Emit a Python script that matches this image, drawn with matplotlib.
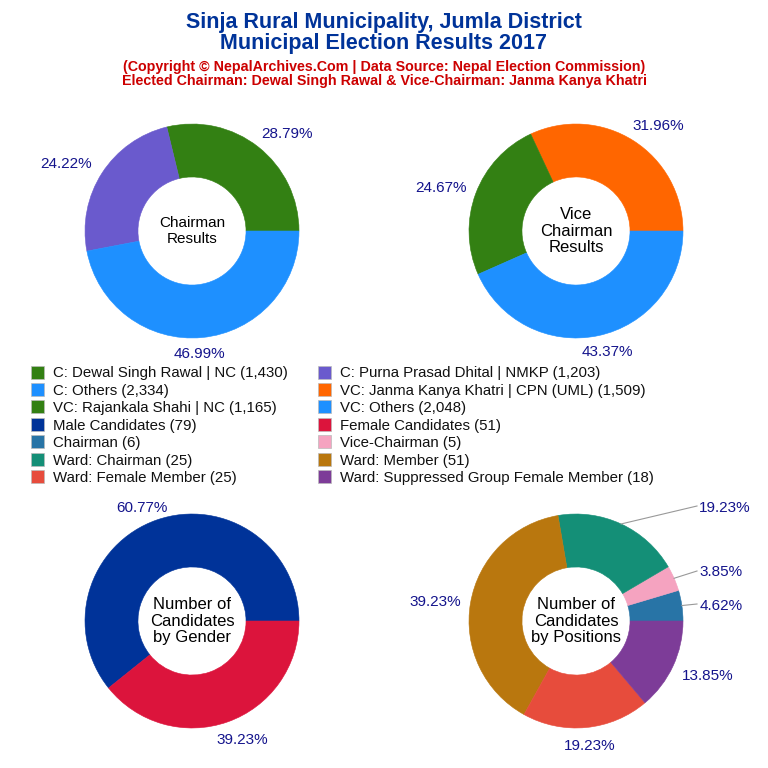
import math
import matplotlib
matplotlib.use("Agg")
import matplotlib.pyplot as plt
from matplotlib.patches import Rectangle

plt.rcParams["font.family"] = ["Liberation Sans", "DejaVu Sans"]

chairman_names = ["C: Dewal Singh Rawal | NC", "C: Purna Prasad Dhital | NMKP", "C: Others"]
chairman_votes = [1430, 1203, 2334]
chairman_colors = ["#338013", "#6a5acd", "#1e90ff"]

vice_names = ["VC: Janma Kanya Khatri | CPN (UML)", "VC: Rajankala Shahi | NC", "VC: Others"]
vice_votes = [1509, 1165, 2048]
vice_colors = ["#ff6600", "#338013", "#1e90ff"]

gender_names = ["Male Candidates", "Female Candidates"]
gender_counts = [79, 51]
gender_colors = ["#003399", "#dc143c"]

position_names = ["Chairman", "Vice-Chairman", "Ward: Chairman", "Ward: Member",
                  "Ward: Female Member", "Ward: Suppressed Group Female Member"]
position_counts = [6, 5, 25, 51, 25, 18]
position_colors = ["#2874a6", "#f5a3c0", "#148f77", "#b9770e", "#e74c3c", "#7d3c98"]

# legend rows, read left to right
legend_left = [(chairman_names[0], chairman_votes[0], chairman_colors[0]),
               (chairman_names[2], chairman_votes[2], chairman_colors[2]),
               (vice_names[1], vice_votes[1], vice_colors[1]),
               (gender_names[0], gender_counts[0], gender_colors[0]),
               (position_names[0], position_counts[0], position_colors[0]),
               (position_names[2], position_counts[2], position_colors[2]),
               (position_names[4], position_counts[4], position_colors[4])]
legend_right = [(chairman_names[1], chairman_votes[1], chairman_colors[1]),
                (vice_names[0], vice_votes[0], vice_colors[0]),
                (vice_names[2], vice_votes[2], vice_colors[2]),
                (gender_names[1], gender_counts[1], gender_colors[1]),
                (position_names[1], position_counts[1], position_colors[1]),
                (position_names[3], position_counts[3], position_colors[3]),
                (position_names[5], position_counts[5], position_colors[5])]

SIZE = 768
RADIUS = 107
LABEL_COLOR = "#14148c"
LEADER_X = 697

fig = plt.figure(figsize=(7.68, 7.68), dpi=100)


def px_x(x):
    return x / SIZE


def px_y(y):
    return 1 - y / SIZE


def donut(cx, cy, values, colors, center_text, label_pos, center_size=11.5, leaders=()):
    span = RADIUS * 1.1
    ax = fig.add_axes([px_x(cx - span), px_y(cy + span), 2 * span / SIZE, 2 * span / SIZE])
    wedges, _ = ax.pie(values, colors=colors, startangle=0, radius=1,
                       wedgeprops={"width": 0.495, "linewidth": 0.4})
    for wedge in wedges:
        wedge.set_edgecolor(wedge.get_facecolor())
    ax.set_xlim(-1.1, 1.1)
    ax.set_ylim(-1.1, 1.1)
    ax.text(0, 0, center_text, ha="center", va="center", fontsize=center_size,
            color="black", linespacing=1.12)
    total = sum(values)
    for i, (wedge, value, pos) in enumerate(zip(wedges, values, label_pos)):
        fig.text(px_x(pos[0]), px_y(pos[1] + 5.5), f"{value / total * 100:.2f}%", ha="center",
                 va="baseline", fontsize=11, color=LABEL_COLOR)
        if i in leaders:
            mid = math.radians((wedge.theta1 + wedge.theta2) / 2)
            rim = (cx + RADIUS * math.cos(mid), cy - RADIUS * math.sin(mid))
            fig.add_artist(plt.Line2D([px_x(rim[0]), px_x(LEADER_X)],
                                      [px_y(rim[1]), px_y(pos[1])],
                                      color="#999999", linewidth=0.8))


fig.text(0.5, px_y(28), "Sinja Rural Municipality, Jumla District", ha="center", va="baseline",
         fontsize=15.5, fontweight="bold", color="#003399")
fig.text(0.5, px_y(49), "Municipal Election Results 2017", ha="center", va="baseline",
         fontsize=15.5, fontweight="bold", color="#003399")
fig.text(0.5, px_y(71), "(Copyright © NepalArchives.Com | Data Source: Nepal Election Commission)",
         ha="center", va="baseline", fontsize=10.3, fontweight="bold", color="#cc0000")
fig.text(0.5, px_y(85), "Elected Chairman: Dewal Singh Rawal & Vice-Chairman: Janma Kanya Khatri",
         ha="center", va="baseline", fontsize=10.3, fontweight="bold", color="#cc0000")

donut(192, 231, chairman_votes, chairman_colors, "Chairman\nResults",
      [(287, 133), (66, 162), (199, 352)], center_size=11)
donut(576, 231, vice_votes, vice_colors, "Vice\nChairman\nResults",
      [(658, 125), (441, 187), (607, 351)], center_size=12)
donut(192, 621, gender_counts, gender_colors, "Number of\nCandidates\nby Gender",
      [(142, 506), (242, 738)], center_size=12)
donut(576, 621, position_counts, position_colors, "Number of\nCandidates\nby Positions",
      [(721, 604), (721, 571), (725, 506), (435, 601), (590, 745), (708, 675)],
      center_size=12, leaders=(0, 1, 2))

for rows, swatch_x, text_x in [(legend_left, 31, 53), (legend_right, 318, 340)]:
    for i, (name, count, color) in enumerate(rows):
        y = 372 + i * 17.4
        fig.add_artist(Rectangle((px_x(swatch_x), px_y(y + 6.5)), 13 / SIZE, 13 / SIZE,
                                 transform=fig.transFigure, facecolor=color,
                                 edgecolor="#bbbbbb", linewidth=0.5))
        fig.text(px_x(text_x), px_y(y + 5.5), f"{name} ({count:,})", ha="left", va="baseline",
                 fontsize=10.8, color="#111111")

fig.savefig("out.png", dpi=100)
